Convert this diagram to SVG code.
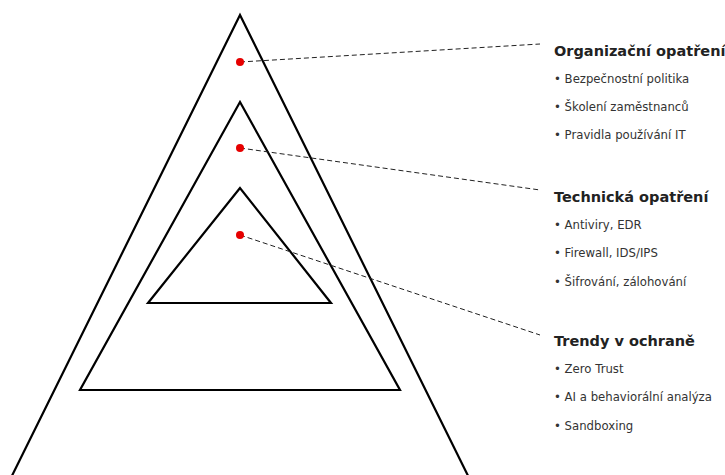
<svg xmlns="http://www.w3.org/2000/svg" width="725" height="475" viewBox="0 0 725 475">
<style>
.tri{fill:none;stroke:#000;stroke-width:2.2;stroke-linejoin:miter}
.dot{fill:#e60000}
.con{stroke:#222;stroke-width:1;stroke-dasharray:5,3;fill:none}
.h{font-family:"DejaVu Sans",sans-serif;font-weight:bold;font-size:14.5px;fill:#222}
.b{font-family:"DejaVu Sans",sans-serif;font-size:11.7px;fill:#333}
</style>
<rect width="725" height="475" fill="#fff"/>
<g id="outer"><polygon class="tri" points="240,15 -2,504 482,504"/></g>
<g id="middle"><polygon class="tri" points="240,102 80,390 400,390"/></g>
<g id="inner"><polygon class="tri" points="240,188 148,303 331,303"/></g>
<g id="connectors">
<line class="con" x1="240" y1="62" x2="540" y2="44"/>
<line class="con" x1="240" y1="148" x2="540" y2="190"/>
<line class="con" x1="240" y1="235" x2="540" y2="335"/>
</g>
<g id="dot1"><circle class="dot" cx="240" cy="62" r="4"/></g>
<g id="dot2"><circle class="dot" cx="240" cy="148" r="4"/></g>
<g id="dot3"><circle class="dot" cx="240" cy="235" r="4"/></g>
<g id="label1">
<text class="h" x="554" y="56">Organizační opatření</text>
<text class="b" x="554" y="83">• Bezpečnostní politika</text>
<text class="b" x="554" y="111">• Školení zaměstnanců</text>
<text class="b" x="554" y="139">• Pravidla používání IT</text>
</g>
<g id="label2">
<text class="h" x="554" y="202">Technická opatření</text>
<text class="b" x="554" y="229">• Antiviry, EDR</text>
<text class="b" x="554" y="257">• Firewall, IDS/IPS</text>
<text class="b" x="554" y="286">• Šifrování, zálohování</text>
</g>
<g id="label3">
<text class="h" x="554" y="346">Trendy v ochraně</text>
<text class="b" x="554" y="373">• Zero Trust</text>
<text class="b" x="554" y="401">• AI a behaviorální analýza</text>
<text class="b" x="554" y="430">• Sandboxing</text>
</g>
</svg>
